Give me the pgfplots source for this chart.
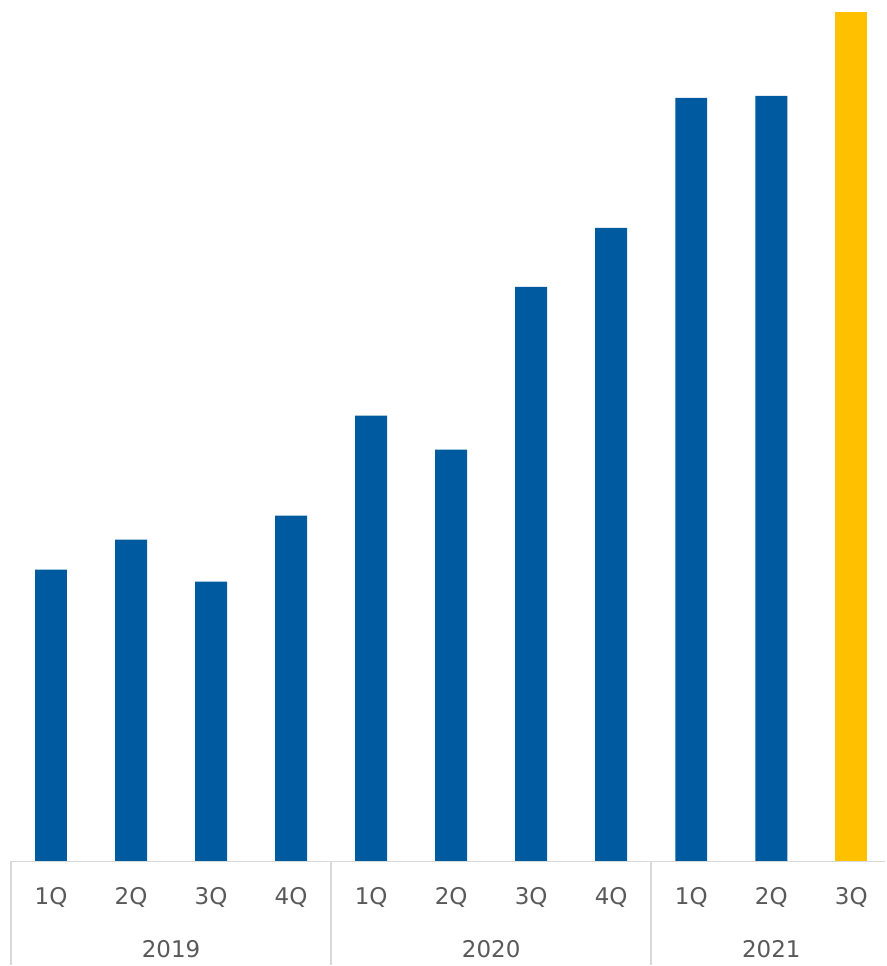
\documentclass[border=0pt]{standalone}
\usepackage{pgfplots}
\pgfplotsset{compat=1.18}
\usepackage{fontspec}
\setmainfont{DejaVu Sans}
\definecolor{barblue}{RGB}{0,90,160}
\definecolor{baryellow}{RGB}{255,192,0}
\definecolor{txtgray}{RGB}{89,89,89}
\definecolor{lngray}{RGB}{217,217,217}
\begin{document}
\begin{tikzpicture}
\begin{axis}[
  name=ax,
  scale only axis,
  width=875bp, height=862bp,
  xmin=-0.5, xmax=10.425,
  ymin=0, ymax=862,
  axis line style={draw=none},
  tick style={draw=none},
  ytick=\empty,
  xtick={0,...,10},
  xticklabels={1Q,2Q,3Q,4Q,1Q,2Q,3Q,4Q,1Q,2Q,3Q},
  major tick length=0pt,
  xticklabel style={anchor=base, yshift=-43bp, font=\fontsize{23bp}{26bp}\selectfont, text=txtgray, inner sep=0pt},
  clip=false,
  ybar, bar width=32bp, bar shift=0pt,
]
\addplot[fill=barblue, draw=none] coordinates {(0,292) (1,322) (2,280) (3,346) (4,446) (5,412) (6,575) (7,634) (8,764) (9,766)};
\addplot[fill=baryellow, draw=none] coordinates {(10,850)};
\draw[lngray, line width=1.5bp] (axis cs:-0.5,0) -- (axis cs:10.425,0);
\draw[lngray, line width=1.5bp] (axis cs:-0.5,0) -- ([yshift=-104bp]axis cs:-0.5,0);
\draw[lngray, line width=1.5bp] (axis cs:3.5,0) -- ([yshift=-104bp]axis cs:3.5,0);
\draw[lngray, line width=1.5bp] (axis cs:7.5,0) -- ([yshift=-104bp]axis cs:7.5,0);
\node[anchor=base, inner sep=0pt, text=txtgray, font=\fontsize{23bp}{26bp}\selectfont] at ([yshift=-96bp]axis cs:1.5,0) {2019};
\node[anchor=base, inner sep=0pt, text=txtgray, font=\fontsize{23bp}{26bp}\selectfont] at ([yshift=-96bp]axis cs:5.5,0) {2020};
\node[anchor=base, inner sep=0pt, text=txtgray, font=\fontsize{23bp}{26bp}\selectfont] at ([yshift=-96bp]axis cs:9,0) {2021};
\end{axis}
\path[use as bounding box] ([shift={(-11bp,-104bp)}]ax.south west) rectangle (ax.north east);
\end{tikzpicture}
\end{document}
